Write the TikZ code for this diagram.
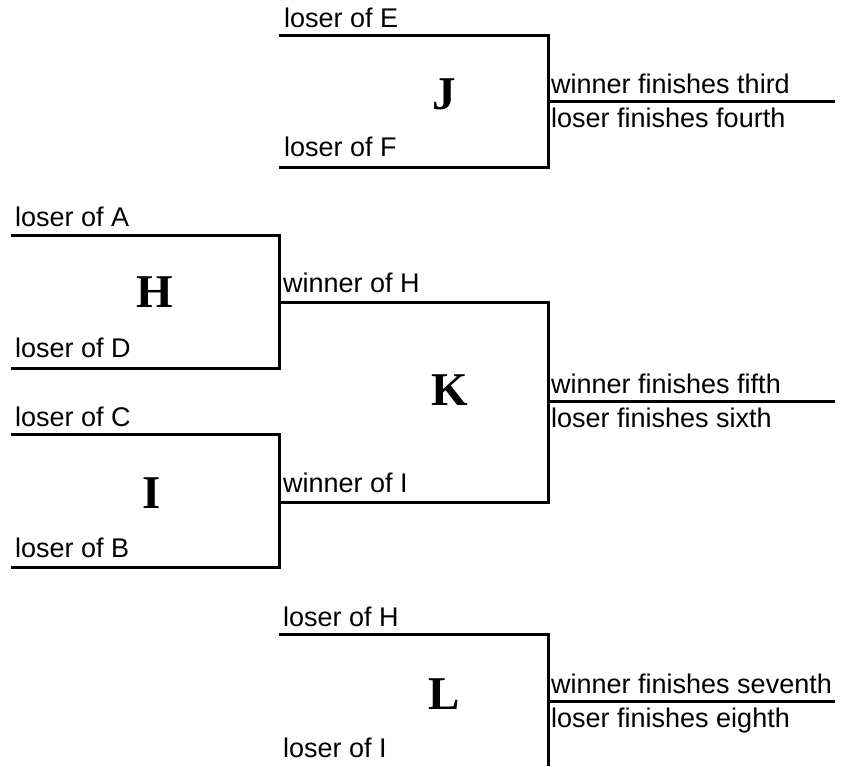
\documentclass[tikz,border=0pt]{standalone}
\usepackage{fontspec}
\setmainfont{Liberation Serif}
\setsansfont{Liberation Sans}
\usetikzlibrary{positioning}

\begin{document}
\begin{tikzpicture}[x=1pt, y=-1pt,
    wire/.style={line width=3pt},
    lbl/.style={inner sep=0pt, font=\sffamily\fontsize{27}{31}\selectfont},
    game/.style={inner sep=0pt, anchor=base, font=\bfseries\fontsize{47}{50}\selectfont}]

  \useasboundingbox (0,0) rectangle (848,766);

  % match J
  \coordinate (e) at (279,35);
  \coordinate (f) at (279,167);
  \coordinate (j) at (548,101);
  \coordinate (jout) at (835,101);
  \draw[wire] (e) -| (j) |- (f);
  \draw[wire] (j) -- (jout);

  \node[lbl, above right=7pt and 5pt of e] (le) {loser of E};
  \node[lbl, above right=10pt and 5pt of f] (lf) {loser of F};
  \node[lbl, above right=7pt and 3pt of j] (wj) {winner finishes third};
  \node[lbl, below right=7pt and 3pt of j] (lj) {loser finishes fourth};
  \node[game] (gj) at (444,109) {J};

  % matches H and I
  \coordinate (a) at (11,235);
  \coordinate (d) at (11,368);
  \coordinate (h) at (279,302);
  \coordinate (c) at (11,434);
  \coordinate (b) at (11,567);
  \coordinate (i) at (279,502);
  \draw[wire] (a) -| (h) |- (d);
  \draw[wire] (c) -| (i) |- (b);

  \node[lbl, above right=8pt and 4pt of a] (la) {loser of A};
  \node[lbl, above right=10pt and 4pt of d] (ld) {loser of D};
  \node[lbl, above right=7pt and 4pt of c] (lc) {loser of C};
  \node[lbl, above right=9pt and 4pt of b] (lb) {loser of B};
  \node[game] (gh) at (155,307) {H};
  \node[game] (gi) at (152,508) {I};

  % match K
  \coordinate (k) at (548,401);
  \coordinate (kout) at (835,401);
  \draw[wire] (h) -| (k) |- (i);
  \draw[wire] (k) -- (kout);

  \node[lbl, above right=9pt and 4pt of h] (wh) {winner of H};
  \node[lbl, above right=9pt and 4pt of i] (wi) {winner of I};
  \node[lbl, above right=7pt and 3pt of k] (wk) {winner finishes fifth};
  \node[lbl, below right=7pt and 3pt of k] (lk) {loser finishes sixth};
  \node[game] (gk) at (450,405) {K};

  % match L
  \coordinate (lh) at (279,634);
  \coordinate (li) at (279,768);
  \coordinate (l) at (548,701);
  \coordinate (lout) at (835,701);
  \coordinate (lend) at (548,766);
  \draw[wire] (lh) -| (l) -- (lend);
  \draw[wire] (l) -- (lout);

  \node[lbl, above right=7pt and 4pt of lh] (llh) {loser of H};
  \node[lbl, above right=10pt and 4pt of li] (lli) {loser of I};
  \node[lbl, above right=7pt and 3pt of l] (wl) {winner finishes seventh};
  \node[lbl, below right=7pt and 3pt of l] (ll) {loser finishes eighth};
  \node[game] (gl) at (444,709) {L};

\end{tikzpicture}
\end{document}
